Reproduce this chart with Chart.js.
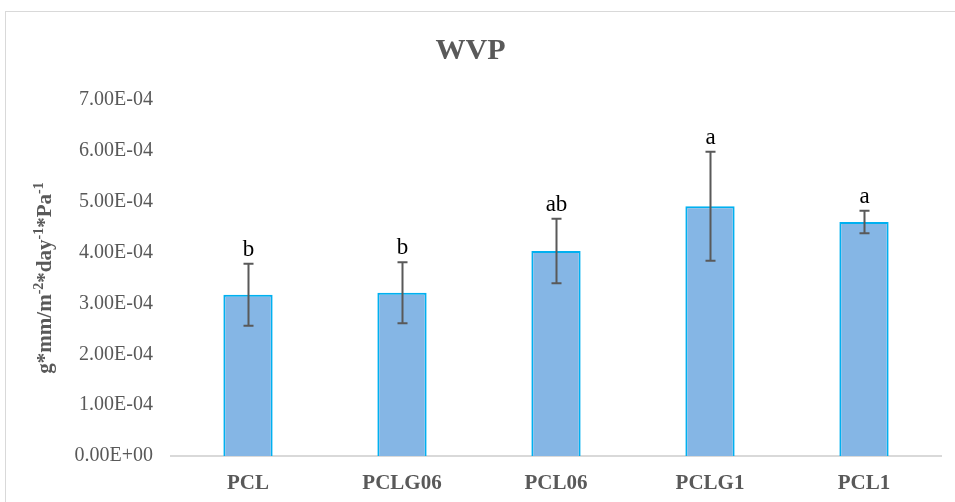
<!DOCTYPE html>
<html>
<head>
<meta charset="utf-8">
<script src="https://cdn.jsdelivr.net/npm/chart.js@4"></script>
<style>
  html, body { margin: 0; padding: 0; background: #fff; }
  #wrap { width: 955px; height: 502px; }
</style>
</head>
<body>
<div id="wrap"><canvas id="chart" width="955" height="502"></canvas></div>
<script>
const categories = ['PCL', 'PCLG06', 'PCL06', 'PCLG1', 'PCL1'];
const wvpValues = [3.17e-4, 3.21e-4, 4.03e-4, 4.91e-4, 4.60e-4];
const wvpErrors = [0.61e-4, 0.60e-4, 0.635e-4, 1.07e-4, 0.22e-4];
const groupLetters = ['b', 'b', 'ab', 'a', 'a'];

const SERIF = '"Liberation Serif", "Times New Roman", serif';
const GREY = '#595959';

// light frame round the chart
const framePlugin = {
  id: 'frame',
  beforeDraw(chart) {
    const ctx = chart.ctx;
    ctx.save();
    ctx.fillStyle = '#fff';
    ctx.fillRect(0, 0, chart.width, chart.height);
    ctx.strokeStyle = '#d9d9d9';
    ctx.lineWidth = 1;
    ctx.strokeRect(5.5, 11.5, chart.width + 20, chart.height + 20);
    ctx.restore();
  }
};

// error bars + significance letters
const errorBarPlugin = {
  id: 'errorBars',
  afterDatasetsDraw(chart) {
    const ctx = chart.ctx;
    const yScale = chart.scales.y;
    const meta = chart.getDatasetMeta(0);
    ctx.save();
    meta.data.forEach((bar, i) => {
      const x = Math.round(bar.x) + 0.5;
      const top = yScale.getPixelForValue(wvpValues[i] + wvpErrors[i]);
      const bottom = yScale.getPixelForValue(wvpValues[i] - wvpErrors[i]);
      ctx.strokeStyle = GREY;
      ctx.lineWidth = 2;
      ctx.beginPath();
      ctx.moveTo(x, top);
      ctx.lineTo(x, bottom);
      ctx.moveTo(x - 5, top);
      ctx.lineTo(x + 5, top);
      ctx.moveTo(x - 5, bottom);
      ctx.lineTo(x + 5, bottom);
      ctx.stroke();

      ctx.fillStyle = '#000';
      ctx.font = '23px ' + SERIF;
      ctx.textAlign = 'center';
      ctx.textBaseline = 'alphabetic';
      ctx.fillText(groupLetters[i], x, top - 8);
    });
    ctx.restore();
  }
};

// rotated y axis title with superscripts
const yTitlePlugin = {
  id: 'yTitle',
  afterDraw(chart) {
    const ctx = chart.ctx;
    const area = chart.chartArea;
    const parts = [
      ['g*mm/m', false], ['-2', true], ['*day', false], ['-1', true], ['*Pa', false], ['-1', true]
    ];
    const mainFont = 'bold 21px ' + SERIF;
    const supFont = 'bold 14px ' + SERIF;
    ctx.save();
    let total = 0;
    parts.forEach(([t, sup]) => {
      ctx.font = sup ? supFont : mainFont;
      total += ctx.measureText(t).width;
    });
    ctx.translate(46, (area.top + area.bottom) / 2);
    ctx.rotate(-Math.PI / 2);
    ctx.fillStyle = GREY;
    ctx.textBaseline = 'middle';
    ctx.textAlign = 'left';
    let pos = -total / 2;
    parts.forEach(([t, sup]) => {
      ctx.font = sup ? supFont : mainFont;
      ctx.fillText(t, pos, sup ? -7 : 0);
      pos += ctx.measureText(t).width;
    });
    ctx.restore();
  }
};

new Chart(document.getElementById('chart'), {
  type: 'bar',
  data: {
    labels: categories,
    datasets: [{
      label: 'WVP',
      data: wvpValues,
      backgroundColor: '#85b6e5',
      borderColor: '#00b0f0',
      borderWidth: 2,
      barPercentage: 0.64,
      categoryPercentage: 0.5
    }]
  },
  options: {
    responsive: false,
    animation: false,
    layout: { padding: { left: 0, right: 14, top: 0, bottom: 0 } },
    plugins: {
      legend: { display: false },
      tooltip: { enabled: false },
      title: {
        display: true,
        text: 'WVP',
        color: GREY,
        font: { family: SERIF, size: 30, weight: 'bold' },
        padding: { top: 33, bottom: 31 }
      }
    },
    scales: {
      x: {
        afterFit(scale) { scale.height = 46; },
        grid: { display: false, drawTicks: false },
        border: { display: true, color: '#d9d9d9', width: 2 },
        ticks: {
          color: GREY,
          padding: 15,
          font: { family: SERIF, size: 21, weight: 'bold' }
        }
      },
      y: {
        min: 0,
        max: 7e-4,
        afterFit(scale) { scale.width = 171; },
        grid: { display: false, drawTicks: false },
        border: { display: false },
        ticks: {
          stepSize: 1e-4,
          padding: 18,
          color: GREY,
          font: { family: SERIF, size: 20 },
          callback: (v) => Number(v).toExponential(2).toUpperCase().replace(/E([+-])(\d)$/, 'E$10$2')
        }
      }
    }
  },
  plugins: [framePlugin, errorBarPlugin, yTitlePlugin]
});
</script>
</body>
</html>
